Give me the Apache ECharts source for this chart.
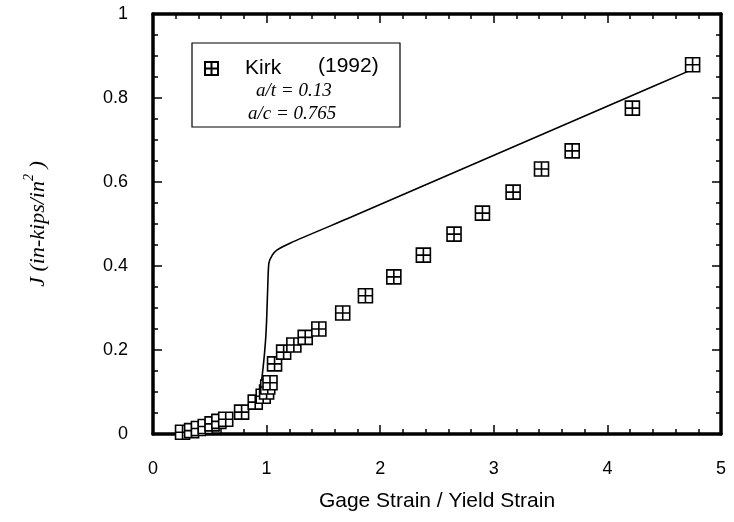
<!DOCTYPE html>
<html>
<head>
<meta charset="utf-8">
<script src="https://cdn.jsdelivr.net/npm/echarts@6/dist/echarts.min.js"></script>
<style>
  html, body { margin: 0; padding: 0; background: #fff; }
  #chart { width: 734px; height: 522px; }
</style>
</head>
<body>
<div id="chart"></div>
<script>
// Kirk (1992) measurements: J versus gage strain / yield strain
const kirkStrain = [0.26, 0.34, 0.40, 0.46, 0.52, 0.58, 0.64, 0.78, 0.90, 0.97, 1.00, 1.01, 1.03, 1.07, 1.15, 1.24, 1.34, 1.46, 1.67, 1.87, 2.12, 2.38, 2.65, 2.90, 3.17, 3.42, 3.69, 4.22, 4.75];
const kirkJ      = [0.004, 0.008, 0.013, 0.018, 0.024, 0.030, 0.035, 0.052, 0.076, 0.090, 0.100, 0.112, 0.122, 0.167, 0.195, 0.212, 0.230, 0.250, 0.288, 0.329, 0.374, 0.426, 0.476, 0.526, 0.576, 0.631, 0.674, 0.776, 0.879];

// Computed J curve
const curveStrain = [0.90, 0.94, 0.97, 0.99, 1.00, 1.01, 1.02, 1.05, 1.09, 1.21, 1.74, 2.33, 2.91, 3.50, 4.09, 4.74];
const curveJ      = [0.080, 0.098, 0.160, 0.220, 0.270, 0.350, 0.407, 0.426, 0.438, 0.455, 0.516, 0.585, 0.653, 0.722, 0.791, 0.867];

const xTicks = [0, 1, 2, 3, 4, 5];
const yTicks = [0, 0.2, 0.4, 0.6, 0.8, 1];

const crossSquare = 'path://M0,0H10V10H0Z M5,0V10 M0,5H10';

const chart = echarts.init(document.getElementById('chart'), null, { renderer: 'canvas' });

const frameAxis = {
  axisLine: { show: true, onZero: false, lineStyle: { color: '#000', width: 3.5 } },
  splitLine: { show: false },
};

const option = {
  backgroundColor: '#fff',
  animation: false,
  grid: { left: 153, right: 13, top: 14, bottom: 88, containLabel: false },
  legend: {
    data: [{ name: 'Kirk', icon: crossSquare }],
    left: 199, top: 53,
    itemWidth: 13, itemHeight: 13, itemGap: 0,
    textStyle: { fontFamily: 'Liberation Sans', fontSize: 21, color: '#000', padding: [0, 0, 0, 22] },
    selectedMode: false
  },
  xAxis: [
    Object.assign({}, frameAxis, {
      type: 'value', min: xTicks[0], max: xTicks[xTicks.length - 1], interval: 1, position: 'bottom',
      name: 'Gage Strain / Yield Strain', nameLocation: 'middle', nameGap: 57,
      nameTextStyle: { fontFamily: 'Liberation Sans', fontSize: 21, color: '#000' },
      axisTick: { show: true, inside: true, length: 9, lineStyle: { color: '#000', width: 1.5 } },
      minorTick: { show: true, splitNumber: 5, length: 5, lineStyle: { color: '#000', width: 1.5 } },
      axisLabel: { margin: 26, fontFamily: 'Liberation Sans', fontSize: 18, color: '#000',
        formatter: v => String(v) }
    }),
    Object.assign({}, frameAxis, {
      type: 'value', min: xTicks[0], max: xTicks[xTicks.length - 1], interval: 1, position: 'top',
      axisTick: { show: true, inside: true, length: 9, lineStyle: { color: '#000', width: 1.5 } },
      minorTick: { show: true, splitNumber: 5, length: 5, lineStyle: { color: '#000', width: 1.5 } },
      axisLabel: { show: false }
    })
  ],
  yAxis: [
    Object.assign({}, frameAxis, {
      type: 'value', min: yTicks[0], max: yTicks[yTicks.length - 1], interval: 0.2, position: 'left',
      name: '{i|J (in-kips/in}{s|2}{i| )}', nameLocation: 'middle', nameGap: 104, nameRotate: 90,
      nameTextStyle: {
        rich: {
          i: { fontFamily: 'Liberation Serif', fontStyle: 'italic', fontSize: 22, color: '#000', lineHeight: 27, verticalAlign: 'bottom' },
          s: { fontFamily: 'Liberation Serif', fontStyle: 'italic', fontSize: 14, color: '#000', lineHeight: 27, verticalAlign: 'top' }
        }
      },
      axisTick: { show: true, inside: true, length: 9, lineStyle: { color: '#000', width: 1.5 } },
      minorTick: { show: true, splitNumber: 4, length: 5, lineStyle: { color: '#000', width: 1.5 } },
      axisLabel: { margin: 25, fontFamily: 'Liberation Sans', fontSize: 18, color: '#000',
        formatter: v => String(Math.round(v * 10) / 10) }
    }),
    Object.assign({}, frameAxis, {
      type: 'value', min: yTicks[0], max: yTicks[yTicks.length - 1], interval: 0.2, position: 'right',
      axisTick: { show: true, inside: true, length: 9, lineStyle: { color: '#000', width: 1.5 } },
      minorTick: { show: true, splitNumber: 4, length: 5, lineStyle: { color: '#000', width: 1.5 } },
      axisLabel: { show: false }
    })
  ],
  graphic: [
    { type: 'rect', shape: { x: 192, y: 43, width: 208, height: 84 },
      style: { fill: 'none', stroke: '#000', lineWidth: 1.2 }, z: 10 },
    { type: 'text', left: 318, top: 56, z: 11,
      style: { text: '(1992)', fontFamily: 'Liberation Sans', fontSize: 21, fill: '#000' } },
    { type: 'text', left: 256, top: 81, z: 11,
      style: { text: 'a/t = 0.13', fontFamily: 'Liberation Serif', fontStyle: 'italic', fontSize: 19, fill: '#000' } },
    { type: 'text', left: 248, top: 104, z: 11,
      style: { text: 'a/c = 0.765', fontFamily: 'Liberation Serif', fontStyle: 'italic', fontSize: 19, fill: '#000' } }
  ],
  series: [
    {
      name: 'Computed', type: 'line', xAxisIndex: 0, yAxisIndex: 0,
      data: curveStrain.map((x, i) => [x, curveJ[i]]),
      showSymbol: false, smooth: 0.2,
      lineStyle: { color: '#000', width: 1.6 }, z: 2
    },
    {
      name: 'Kirk', type: 'scatter', xAxisIndex: 0, yAxisIndex: 0,
      data: kirkStrain.map((x, i) => [x, kirkJ[i]]),
      symbol: crossSquare, symbolSize: 14,
      itemStyle: { color: '#fff', borderColor: '#000', borderWidth: 1.6, opacity: 1 }, z: 3
    }
  ]
};

chart.setOption(option);
</script>
</body>
</html>
